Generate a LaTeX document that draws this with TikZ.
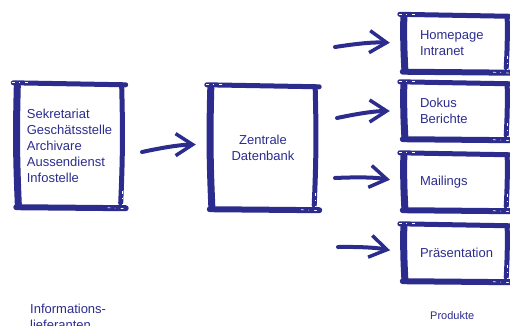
\documentclass[tikz,border=0pt]{standalone}
\usepackage{fontspec}
\setmainfont{Liberation Sans}
\usetikzlibrary{arrows.meta}
\definecolor{ink}{RGB}{44,44,142}
\tikzset{
  rahmen/.style={minimum width=104pt, minimum height=123pt, inner sep=0pt, text=ink, font=\fontsize{13}{16}\selectfont},
  produkt/.style={rahmen, minimum width=103pt, minimum height=56pt, text width=71pt, align=left},
  pinsel/.style={draw=ink, line width=#1, line cap=round},
  pinsel/.default=6pt,
  streifen/.style={draw=white, line width=0.6pt, dash pattern=on 3pt off 4pt on 1pt off 5pt},
  pfeil/.style={draw=ink, line width=4pt, line cap=round, -{Straight Barb[length=17pt, width=22pt, line width=3.5pt]}},
  beschrift/.style={text=ink, align=left, inner sep=0pt, font=\fontsize{13}{16}\selectfont},
}
\newcommand\pinselrahmen[1]{%
  \draw[pinsel=5pt] ([shift={(-4pt,1pt)}]#1.north west) -- ([shift={(4pt,-1pt)}]#1.north east);
  \draw[pinsel=7pt] ([shift={(0pt,-2pt)}]#1.north west) to[bend right=2] ([shift={(1pt,3pt)}]#1.south west);
  \draw[pinsel=5pt] ([shift={(0pt,-3pt)}]#1.north east) to[bend left=2] ([shift={(-1pt,4pt)}]#1.south east);
  \draw[pinsel=6pt] ([shift={(-1pt,0pt)}]#1.south west) -- ([shift={(4pt,-1pt)}]#1.south east);
  % trockener Pinsel an den Enden
  \draw[streifen] ([shift={(-5pt,1.5pt)}]#1.north west) -- ++(18pt,0pt);
  \draw[streifen] ([shift={(-14pt,-0.5pt)}]#1.south east) -- ++(18pt,-1pt);
  \draw[streifen] ([shift={(0.5pt,16pt)}]#1.south east) -- ++(0pt,-14pt);
}
\begin{document}
\begin{tikzpicture}[x=1pt,y=-1pt]
  \useasboundingbox (0,0) rectangle (510,325);
  % Lieferanten und Datenbank
  \node[rahmen, align=left] (quellen) at (69.5,145.5) {Sekretariat\\Geschätsstelle\\Archivare\\Aussendienst\\Infostelle};
  \node[rahmen, align=center] (datenbank) at (263,147.5) {Zentrale\\Datenbank};
  \pinselrahmen{quellen}
  \pinselrahmen{datenbank}
  \coordinate (start-db) at (142,152);
  \draw[pfeil, shorten >=15pt] (start-db) to[bend left=6] ([yshift=3pt]datenbank.west);
  % Produkte
  \foreach \name/\y/\sx/\sy/\txt in {homepage/43.5/335/47/{Homepage\\Intranet}, dokus/111/337/118/{Dokus\\Berichte}, mailings/182/335/178/Mailings, praesentation/253/338/247/Präsentation}{
    \node[produkt] (\name) at (455.5,\y) {\txt};
    \pinselrahmen{\name}
    \coordinate (start-\name) at (\sx,\sy);
    \draw[pfeil, shorten >=14pt] (start-\name) to[bend left=6] (\name.west);
  }
  \node[beschrift, anchor=base west] (lieferanten) at (30,329) {Informations-\\lieferanten};
  \node[beschrift, font=\fontsize{11}{14}\selectfont, anchor=base west] (produkte) at (430,319) {Produkte};
\end{tikzpicture}
\end{document}
